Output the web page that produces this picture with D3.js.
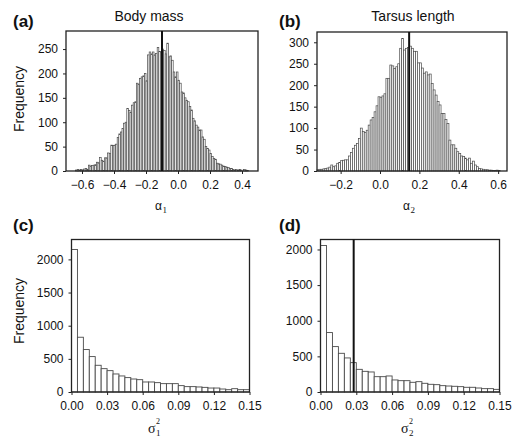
<!DOCTYPE html>
<html>
<head>
<meta charset="utf-8">
<script src="https://cdn.jsdelivr.net/npm/d3@7"></script>
<style>
  body { margin: 0; background: #fff; }
  svg text { font-family: Arial, "Liberation Sans", sans-serif; fill: #111; }
</style>
</head>
<body>
<svg id="canvas" width="512" height="441"></svg>
<script>
// (a) body mass, alpha1 - bins of 0.01 starting at -0.65
let massStart = -0.65
let massWidth = 0.01
let massCounts = [0,2,3,2,3,2,4,5,3,12,
  10,11,12,13,18,17,28,22,20,27,
  27,37,36,53,52,53,55,69,76,80,
  87,98,100,128,124,120,135,140,142,180,
  178,190,193,195,200,185,238,244,240,244,
  238,241,253,245,244,250,247,240,262,234,
  236,227,203,193,203,186,180,162,160,150,
  145,142,132,125,108,103,94,90,84,84,
  70,65,50,46,43,36,30,26,24,16,
  15,14,12,10,9,8,7,5,5,3,
  2,3,1,3,2,0,3,2,1,0]
let massMarker = -0.1
let massXTicks = [-0.6, -0.4, -0.2, 0.0, 0.2, 0.4]
let massYTicks = [0, 50, 100, 150, 200, 250]

// (b) tarsus length, alpha2 - bins of 0.01 starting at -0.32
let tarsusStart = -0.32
let tarsusWidth = 0.01
let tarsusCounts = [3,4,4,5,6,7,9,14,10,12,
  18,20,24,25,26,26,35,43,53,60,
  64,76,100,92,90,95,107,119,125,138,
  152,173,172,175,180,216,216,247,245,239,
  243,250,286,309,282,286,288,291,286,279,
  279,252,252,240,228,231,224,226,204,189,
  177,162,154,134,134,120,111,72,61,61,
  53,45,41,35,34,30,26,30,18,23,
  14,10,6,5,4,3,3,2,2,1,
  1,2,1,0]
let tarsusMarker = 0.148
let tarsusXTicks = [-0.2, 0.0, 0.2, 0.4, 0.6]
let tarsusYTicks = [0, 50, 100, 150, 200, 250, 300]

// (c) sigma^2_1 and (d) sigma^2_2 - bins of 0.005 from 0
let varStart = 0
let varWidth = 0.005
let sigma1Counts = [2150,826,640,534,403,352,322,272,242,217,196,186,151,151,141,
  126,126,126,96,81,81,76,70,60,60,45,35,50,35,35]
let sigma2Counts = [2056,834,637,543,478,412,318,290,281,215,215,225,169,159,159,
  136,145,122,108,103,89,84,80,75,66,66,56,47,47,37]
let sigma2Marker = 0.0278
let varXTicks = [0, 0.03, 0.06, 0.09, 0.12, 0.15]
let varYTicks = [0, 500, 1000, 1500, 2000]

let canvas = d3.select('#canvas')

let panels = [
  { counts: massCounts, start: massStart, width: massWidth, marker: massMarker,
    xDomain: [-0.7, 0.5], yDomain: [0, 287], xTicks: massXTicks, yTicks: massYTicks, fmt: '.1f',
    left: 66, right: 258, top: 31, bottom: 171 },
  { counts: tarsusCounts, start: tarsusStart, width: tarsusWidth, marker: tarsusMarker,
    xDomain: [-0.32, 0.645], yDomain: [0, 324], xTicks: tarsusXTicks, yTicks: tarsusYTicks, fmt: '.1f',
    left: 317, right: 507, top: 32, bottom: 171 },
  { counts: sigma1Counts, start: varStart, width: varWidth, marker: null,
    xDomain: [0, 0.15], yDomain: [0, 2300], xTicks: varXTicks, yTicks: varYTicks, fmt: '.2f',
    left: 71.5, right: 249.5, top: 239.5, bottom: 392 },
  { counts: sigma2Counts, start: varStart, width: varWidth, marker: sigma2Marker,
    xDomain: [0, 0.15], yDomain: [0, 2140], xTicks: varXTicks, yTicks: varYTicks, fmt: '.2f',
    left: 320.5, right: 499.5, top: 239.5, bottom: 392 }
]

let drawPanel = (p) => {
  let x = d3.scaleLinear().domain(p.xDomain).range([p.left, p.right])
  let y = d3.scaleLinear().domain(p.yDomain).range([p.bottom, p.top])
  let g = canvas.append('g')

  // histogram bars
  g.selectAll('rect.bar')
    .data(p.counts)
    .enter()
    .append('rect')
    .attr('class', 'bar')
    .attr('x', (d, i) => x(p.start + i * p.width))
    .attr('width', (d, i) => x(p.start + (i + 1) * p.width) - x(p.start + i * p.width))
    .attr('y', (d) => y(d))
    .attr('height', (d) => y(0) - y(d))
    .attr('fill', '#fff')
    .attr('stroke', '#4a4a4a')
    .attr('stroke-width', p.counts.length > 50 ? 0.7 : 0.9)

  // axes
  let xAxis = g.append('g')
    .attr('transform', 'translate(0,' + p.bottom + ')')
    .call(d3.axisBottom(x).tickValues(p.xTicks).tickFormat(d3.format(p.fmt)).tickSize(3).tickPadding(6))
  let yAxis = g.append('g')
    .attr('transform', 'translate(' + p.left + ',0)')
    .call(d3.axisLeft(y).tickValues(p.yTicks).tickFormat(d3.format('d')).tickSize(3).tickPadding(5))
  ;[xAxis, yAxis].forEach((a) => {
    a.select('.domain').remove()
    a.selectAll('text').style('font-size', '12px').style('font-family', 'Arial, "Liberation Sans", sans-serif').attr('fill', '#111')
    a.selectAll('line').attr('stroke', '#222')
  })

  // frame
  g.append('rect')
    .attr('x', p.left).attr('y', p.top)
    .attr('width', p.right - p.left).attr('height', p.bottom - p.top)
    .attr('fill', 'none').attr('stroke', '#222').attr('stroke-width', 1.3)

  // point marker
  if (p.marker !== null) {
    g.append('line')
      .attr('x1', x(p.marker)).attr('x2', x(p.marker))
      .attr('y1', p.top).attr('y2', p.bottom)
      .attr('stroke', '#111').attr('stroke-width', 2)
  }
}

panels.forEach(drawPanel)

// panel letters and titles
let letters = [['(a)', 13, 27], ['(b)', 279, 27], ['(c)', 13, 231], ['(d)', 279, 231]]
letters.forEach((l) => {
  canvas.append('text').text(l[0]).attr('x', l[1]).attr('y', l[2])
    .style('font-size', '17px').style('font-weight', 'bold')
})
canvas.append('text').text('Body mass').attr('x', 149).attr('y', 21)
  .attr('text-anchor', 'middle').style('font-size', '14px')
canvas.append('text').text('Tarsus length').attr('x', 413).attr('y', 21)
  .attr('text-anchor', 'middle').style('font-size', '14px')

// y labels
;[99, 311].forEach((cy) => {
  canvas.append('text').text('Frequency')
    .attr('transform', 'translate(24,' + cy + ') rotate(-90)')
    .attr('text-anchor', 'middle').style('font-size', '14px')
})

// x labels with greek letters
let symbolLabel = (x0, base, glyph, sup, sub, serif) => {
  let t = canvas.append('text').attr('x', x0).attr('y', base)
    .style('font-size', serif ? '14px' : '12px')
    .style('font-family', serif ? '"Liberation Serif", "DejaVu Serif", serif' : 'Arial, "Liberation Sans", sans-serif')
    .text(glyph)
  let w = t.node().getComputedTextLength()
  if (sup) {
    canvas.append('text').text(sup).attr('x', x0 + w + 0.5).attr('y', base - 9)
      .style('font-size', '8px').style('font-family', '"Liberation Serif", serif')
  }
  canvas.append('text').text(sub).attr('x', x0 + w + 0.5).attr('y', base + 3)
    .style('font-size', '9px').style('font-family', '"Liberation Serif", serif')
}
symbolLabel(155, 210, 'α', null, '1', false)
symbolLabel(403, 210, 'α', null, '2', false)
symbolLabel(148, 433, 'σ', '2', '1', true)
symbolLabel(401, 433, 'σ', '2', '2', true)
</script>
</body>
</html>
